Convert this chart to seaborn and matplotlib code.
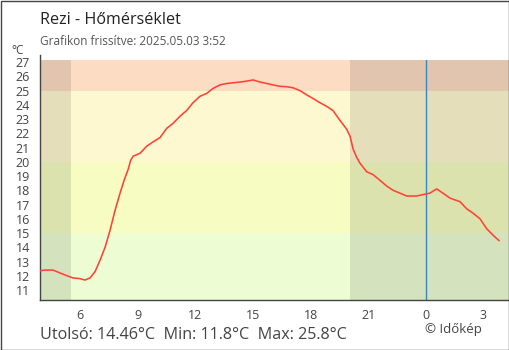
import matplotlib
matplotlib.use("Agg")
import matplotlib.pyplot as plt
from matplotlib.patches import Rectangle
import seaborn as sns
import pandas as pd

# ---- data (hours; values >= 24 are after midnight) ----
hours = [3.90, 4.16, 4.58, 4.94, 5.31, 5.62, 5.98, 6.24, 6.51, 6.77, 7.03, 7.29,
         7.55, 7.81, 8.07, 8.28, 8.50, 8.62, 8.76, 9.11, 9.46, 9.79, 10.15, 10.50,
         10.83, 11.19, 11.54, 11.87, 12.23, 12.58, 12.91, 13.27, 13.63, 13.95,
         14.32, 14.67, 15.00, 15.36, 15.71, 16.04, 16.40, 16.75, 17.08, 17.44,
         17.79, 18.12, 18.48, 18.83, 19.16, 19.53, 19.87, 20.05, 20.21, 20.40,
         20.57, 20.92, 21.25, 21.61, 21.96, 22.29, 22.65, 23.00, 23.52, 23.85,
         24.21, 24.56, 24.89, 25.26, 25.78, 26.13, 26.45, 26.82, 27.17, 27.50, 27.82]
temps = [12.35, 12.4, 12.4, 12.2, 12.0, 11.85, 11.8, 11.7, 11.85, 12.3, 13.1, 14.0,
         15.2, 16.6, 17.8, 18.7, 19.5, 20.1, 20.4, 20.6, 21.1, 21.4, 21.7, 22.35,
         22.7, 23.2, 23.6, 24.15, 24.6, 24.8, 25.15, 25.4, 25.5, 25.55,
         25.6, 25.67, 25.75, 25.6, 25.5, 25.4, 25.3, 25.27, 25.2, 25.0,
         24.7, 24.45, 24.15, 23.9, 23.6, 22.9, 22.3, 21.8, 20.9, 20.3,
         19.9, 19.3, 19.1, 18.7, 18.3, 18.0, 17.8, 17.6, 17.6, 17.7,
         17.8, 18.1, 17.8, 17.45, 17.2, 16.7, 16.4, 16.0, 15.3, 14.85, 14.46]

xtick_pos = [6, 9, 12, 15, 18, 21, 24, 27]
xtick_labels = ["6", "9", "12", "15", "18", "21", "0", "3"]
ytick_vals = list(range(11, 28))

bands = [(10.3, 15, "#eefcd4"), (15, 20, "#f6fcc2"), (20, 25, "#fef8d0"), (25, 27.14, "#fcdcc2")]
nights = [(3.9, 5.52), (20.06, 28.33)]
midnight = 24

title = "Rezi - Hőmérséklet"
subtitle = "Grafikon frissítve: 2025.05.03 3:52"
footer = "Utolsó: 14.46°C  Min: 11.8°C  Max: 25.8°C"
credit = "© Időkép"

# ---- plot ----
sns.set_style("white")
plt.rcParams["font.family"] = ["Open Sans", "DejaVu Sans"]

W, H = 510, 350
fig = plt.figure(figsize=(W / 100, H / 100), dpi=100)
ax = fig.add_axes([40 / W, 50 / H, 469 / W, 245 / H])

xmin, xmax = 3.9, 28.33
ymin, ymax = 10.3, 27.5
ax.set_xlim(xmin, xmax)
ax.set_ylim(ymin, ymax)

for lo, hi, c in bands:
    ax.fill_between([xmin, xmax], lo, hi, color=c, lw=0, zorder=0)
for a, b in nights:
    ax.fill_between([a, b], ymin, 27.14, color="black", alpha=0.1, lw=0, zorder=1)
ax.plot([midnight, midnight], [ymin, 27.14], color="#3a87c0", lw=1, zorder=2)

df = pd.DataFrame({"h": hours, "t": temps})
sns.lineplot(data=df, x="h", y="t", ax=ax, color="#ff4236", lw=1.15, zorder=3)

ax.set_xlabel("")
ax.set_ylabel("")
ax.set_xticks(xtick_pos)
ax.set_xticklabels(xtick_labels)
ax.set_yticks(ytick_vals)
ax.tick_params(axis="both", direction="inout", length=8.5, width=1, color="#444444",
               labelcolor="#444444", labelsize=9)
ax.tick_params(axis="y", pad=3)
ax.tick_params(axis="x", pad=2)
for s in ["top", "right"]:
    ax.spines[s].set_visible(False)
for s in ["left", "bottom"]:
    ax.spines[s].set_color("#444444")
    ax.spines[s].set_linewidth(1)
ax.grid(False)

fig.text(40 / W, 1 - 24 / H, title, fontsize=11.6, color="#222222", va="baseline")
fig.text(40 / W, 1 - 45 / H, subtitle, fontsize=8.5, color="#555555", va="baseline")
fig.text(11 / W, 1 - 54 / H, "°C", fontsize=8.5, color="#444444", va="baseline")
fig.text(40 / W, 1 - 339 / H, footer, fontsize=11.6, color="#444444", va="baseline")
fig.text(425 / W, 1 - 333 / H, credit, fontsize=9.5, color="#444444", va="baseline")

fig.patches.append(Rectangle((0.5 / W, 0.5 / H), 1 - 1 / W, 1 - 1 / H, transform=fig.transFigure,
                             fill=False, edgecolor="#444444", lw=1))

fig.savefig("out.png", dpi=100)
